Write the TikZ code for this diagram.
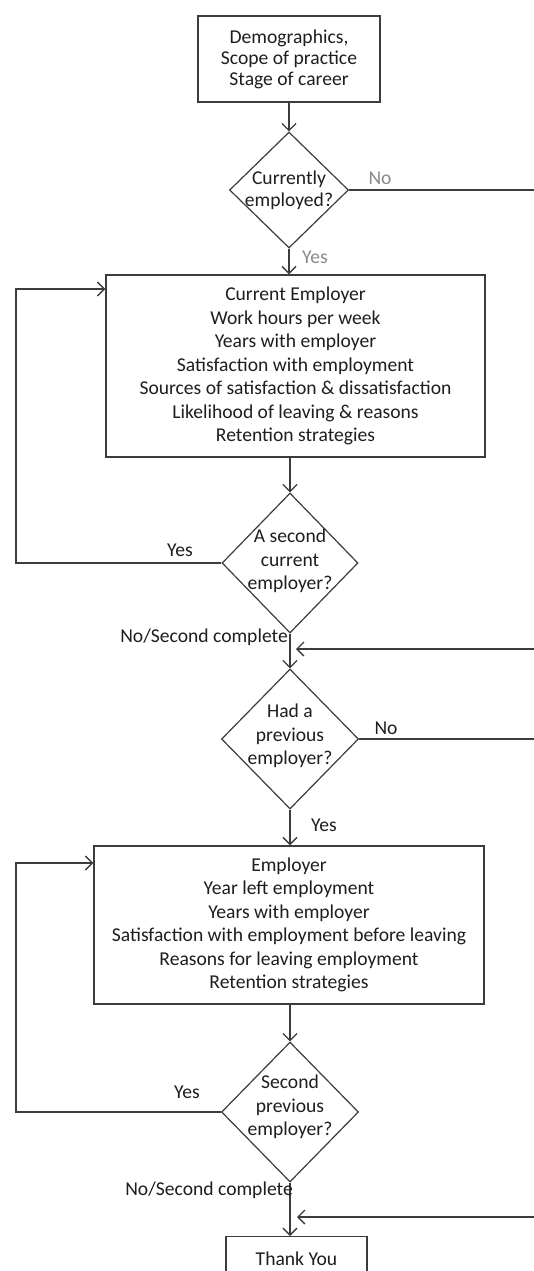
\documentclass[tikz,border=0pt]{standalone}
\usepackage{fontspec}
\setmainfont{Carlito}
\usetikzlibrary{arrows.meta,shapes.geometric,calc}
\definecolor{ln}{HTML}{3C3C3C}
\definecolor{tx}{HTML}{1E1E1E}
\definecolor{lg}{HTML}{8A8A8A}
\begin{document}
\begin{tikzpicture}[x=1pt,y=-1pt,
  every node/.style={font=\fontsize{19.6}{23.5}\selectfont, text=tx},
  boxnode/.style={draw=ln, line width=1.4pt, rectangle, align=center, inner sep=0pt},
  decision/.style={draw=ln, line width=1.2pt, diamond, inner sep=0pt},
  flow/.style={draw=ln, line width=1.3pt, -{Straight Barb[length=7pt,width=14pt]}},
  plain/.style={draw=ln, line width=1.3pt},
  lab/.style={inner sep=0pt, anchor=center},
  glab/.style={inner sep=0pt, text=lg}]
\fill[white] (0,0) rectangle (534,1271);
\useasboundingbox (0,0) rectangle (534,1271);

\node[boxnode, minimum width=182pt, minimum height=86pt, font=\fontsize{19.6}{21}\selectfont] (b1) at (289,59) {Demographics,\\Scope of practice\\Stage of career};

\node[decision, minimum width=119pt, minimum height=116pt,
  label={[lab,align=center,font=\fontsize{19.6}{22}\selectfont]center:Currently\\employed?}] (d1) at (289,190) {};

\node[boxnode, minimum width=379pt, minimum height=182pt] (b2) at (295.5,366)
 {Current Employer\\Work hours per week\\Years with employer\\Satisfaction with employment\\Sources of satisfaction \& dissatisfaction\\Likelihood of leaving \& reasons\\Retention strategies};

\node[decision, minimum width=136pt, minimum height=140pt,
  label={[lab,align=center,yshift=2pt]center:A second\\current\\employer?}] (d2) at (290,563) {};

\node[decision, minimum width=137pt, minimum height=140pt,
  label={[lab,align=center,yshift=3pt]center:Had a\\previous\\employer?}] (d3) at (290,739) {};

\node[boxnode, minimum width=390pt, minimum height=158pt] (b3) at (289,925)
 {Employer\\Year left employment\\Years with employer\\Satisfaction with employment before leaving\\Reasons for leaving employment\\Retention strategies};

\node[decision, minimum width=137pt, minimum height=140pt,
  label={[lab,align=center,yshift=5pt]center:Second\\previous\\employer?}] (d4) at (290,1112) {};

\node[boxnode, minimum width=141pt, minimum height=44pt, anchor=north] (ty) at (296.5,1236) {Thank You};

% coordinates at the right edge and loops
\coordinate (e1) at (536,190);
\coordinate (r1) at (536,649);
\coordinate (j1) at (296,649);
\coordinate (e3) at (536,739);
\coordinate (r2) at (536,1217);
\coordinate (j2) at (297,1217);
\coordinate (l2) at (16,289);
\coordinate (l4) at (16,863);

% connectors
\draw[flow] (b1.south) -- (d1.north);
\draw[plain] (d1.east) -- (e1);
\node[glab] (n1) at (380,178) {No};
\draw[flow] (d1.south) -- (d1.south |- b2.north);
\node[glab] (y1) at (315,257) {Yes};

\draw[flow] (d2.north |- b2.south) -- (d2.north);
\draw[flow] (d2.west) -| (l2) -- (b2.west |- l2);
\node[inner sep=0pt] (y2) at (180,550) {Yes};

\draw[flow] (d2.south) -- (d3.north);
\node[inner sep=0pt, anchor=east] (c2) at (288,637) {No/Second complete};
\draw[flow] (r1) -- (j1);

\draw[plain] (d3.east) -- (e3);
\node[inner sep=0pt] (n3) at (386,728) {No};
\draw[flow] (d3.south) -- (d3.south |- b3.north);
\node[inner sep=0pt] (y3) at (324,825) {Yes};

\draw[flow] (d4.north |- b3.south) -- (d4.north);
\draw[flow] (d4.west) -| (l4) -- (b3.west |- l4);
\node[inner sep=0pt] (y4) at (187,1092) {Yes};

\draw[flow] (d4.south) -- (d4.south |- ty.north);
\node[inner sep=0pt, anchor=east] (c4) at (293,1190) {No/Second complete};
\draw[flow] (r2) -- (j2);
\end{tikzpicture}
\end{document}
